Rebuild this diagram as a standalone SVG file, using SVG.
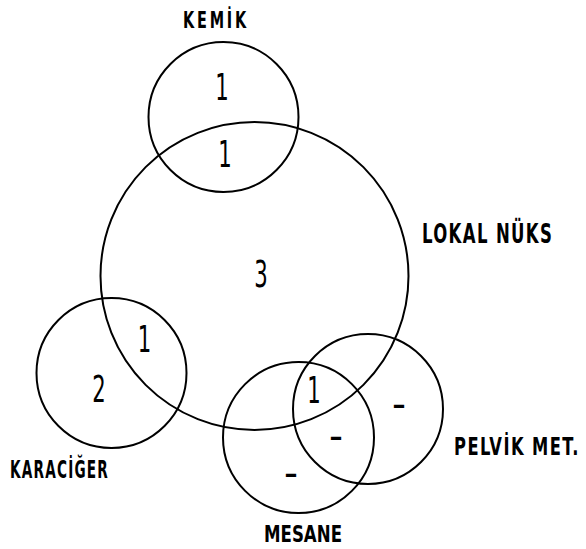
<svg xmlns="http://www.w3.org/2000/svg" width="586" height="549" viewBox="0 0 586 549">
<style>
.c{fill:none;stroke:#000;stroke-width:2}
.lbl{font-family:"DejaVu Sans Condensed","DejaVu Sans",sans-serif;font-weight:bold;fill:#000}
.heavy{font-family:"DejaVu Sans Condensed","DejaVu Sans",sans-serif;font-weight:bold;fill:#000}
.num{font-family:"DejaVu Sans Condensed","DejaVu Sans",sans-serif;font-size:38px;fill:#000;text-anchor:middle}
.dash{font-family:"DejaVu Sans","DejaVu Sans Condensed",sans-serif;font-size:26px;font-weight:bold;fill:#000;text-anchor:middle}
</style>
<rect width="586" height="549" fill="#fff"/>
<g id="lokal-nuks">
<circle class="c" cx="254.5" cy="276" r="154"/>
<text class="lbl" transform="translate(422,243) scale(0.68,1)" font-size="27" letter-spacing="2">LOKAL NÜKS</text>
</g>
<g id="kemik">
<circle class="c" cx="223.5" cy="117" r="75"/>
<text class="lbl" x="183" y="28" font-size="23" textLength="66" lengthAdjust="spacingAndGlyphs" letter-spacing="4">KEMİK</text>
</g>
<g id="karaciger">
<circle class="c" cx="111.5" cy="373" r="75"/>
<text class="lbl" x="10" y="478" font-size="25" textLength="99" lengthAdjust="spacingAndGlyphs" letter-spacing="2">KARACİĞER</text>
</g>
<g id="mesane">
<circle class="c" cx="298.5" cy="437.5" r="75.5"/>
<text class="heavy" x="264" y="542" font-size="23" textLength="78" lengthAdjust="spacingAndGlyphs">MESANE</text>
</g>
<g id="pelvik-met">
<circle class="c" cx="368" cy="409" r="75"/>
<text class="lbl" transform="translate(454,455) scale(0.725,1)" font-size="25" letter-spacing="2">PELVİK MET.</text>
</g>
<g id="region-values">
<text class="num" transform="translate(222,100) scale(0.62,1)">1</text>
<text class="num" transform="translate(225,167) scale(0.62,1)">1</text>
<text class="num" transform="translate(261,287) scale(0.62,1)">3</text>
<text class="num" transform="translate(144.5,352) scale(0.62,1)">1</text>
<text class="num" transform="translate(99,402) scale(0.62,1)">2</text>
<text class="num" transform="translate(314,403) scale(0.62,1)">1</text>
<text class="dash" x="336" y="446">–</text>
<text class="dash" x="291" y="483">–</text>
<text class="dash" x="399" y="414">–</text>
</g>
<g id="connectors"/>
</svg>
